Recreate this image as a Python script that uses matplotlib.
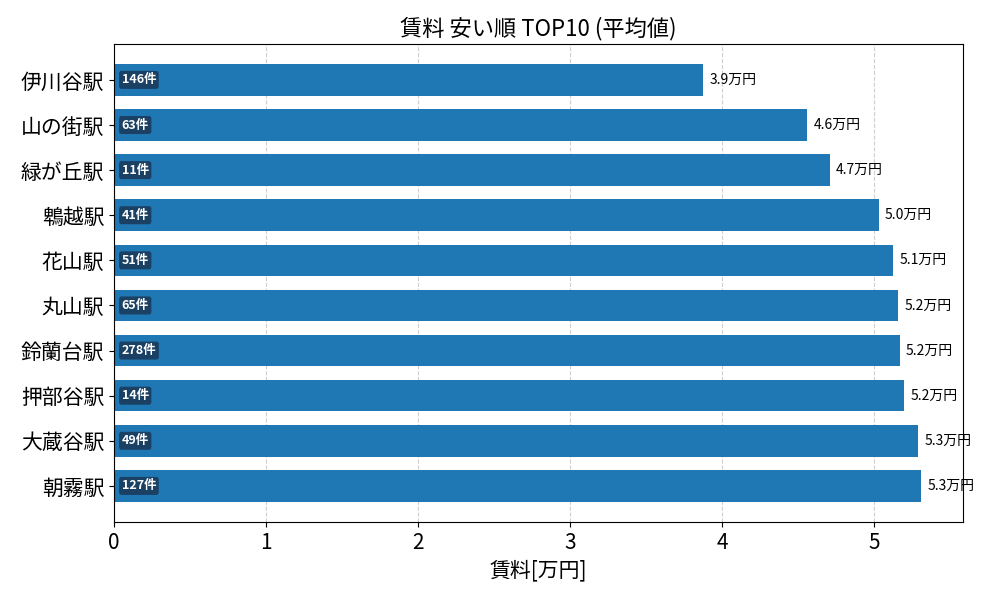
import matplotlib
matplotlib.use("Agg")
import matplotlib.pyplot as plt

plt.rcParams['font.family'] = ['Noto Sans CJK JP', 'DejaVu Sans']

stations = ["伊川谷駅", "山の街駅", "緑が丘駅", "鵯越駅", "花山駅", "丸山駅", "鈴蘭台駅", "押部谷駅", "大蔵谷駅", "朝霧駅"]
rents = [3.875, 4.56, 4.71, 5.03, 5.125, 5.16, 5.17, 5.20, 5.29, 5.31]
counts = [146, 63, 11, 41, 51, 65, 278, 14, 49, 127]

fig = plt.figure(figsize=(10, 6), dpi=100)
ax = fig.add_axes([0.114, 0.13, 0.849, 0.797])
y = list(range(len(stations)))
ax.barh(y, rents, height=0.7, color='#1f77b4', zorder=2)
ax.set_yticks(y)
ax.set_yticklabels(stations, fontsize=15)
ax.tick_params(axis='x', labelsize=15)
ax.set_xlim(0, 5.585)
ax.set_ylim(9.8, -0.8)
ax.grid(axis='x', linestyle='--', alpha=0.6, zorder=0)
for yi, r, c in zip(y, rents, counts):
    ax.text(r + 0.04, yi, f"{r:.1f}万円", va='center', ha='left', fontsize=10)
    ax.text(0.05, yi, f"{c}件", va='center', ha='left', fontsize=9, color='white',
            fontweight='bold',
            bbox=dict(boxstyle='round,pad=0.2', fc='#1a3a5c', ec='none', alpha=0.9))
ax.set_xlabel("賃料[万円]", fontsize=15)
ax.set_title("賃料 安い順 TOP10 (平均値)", fontsize=16)
fig.savefig("out.png")
